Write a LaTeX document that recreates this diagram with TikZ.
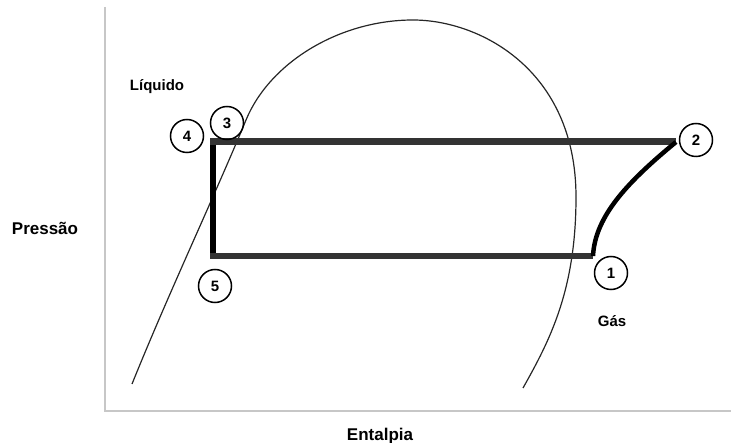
\documentclass[tikz,border=0pt]{standalone}
\usepackage{fontspec}
\setmainfont{Liberation Sans}
\begin{document}
\begin{tikzpicture}[x=1pt,y=-1pt,
  axisline/.style={draw=black!22,line width=2pt},
  domeline/.style={draw=black!85,line width=1.2pt},
  cyclegray/.style={draw=black!80,line width=7pt},
  cycleblack/.style={draw=black,line width=6pt},
  statecirc/.style={circle,draw=black,line width=1.5pt,minimum size=33pt,inner sep=0pt,font=\fontsize{15}{15}\selectfont\bfseries},
  smalllabel/.style={font=\fontsize{15}{15}\selectfont\bfseries},
  axislabel/.style={font=\fontsize{17}{17}\selectfont\bfseries}]
\useasboundingbox (0,0) rectangle (731,443);
% axes
\coordinate (ytop) at (105,7);
\coordinate (orig) at (105,411);
\coordinate (xend) at (731,411);
\draw[axisline] (ytop) -- (orig) -- (xend);
% saturation dome
\coordinate (d0) at (132,384);
\coordinate (d1) at (246,120);
\coordinate (d2) at (413,20);
\coordinate (d3) at (576,197);
\coordinate (d4) at (523,388);
\draw[domeline] (d0) .. controls (170,290) and (215,195) .. (d1)
  .. controls (270,62) and (340,20) .. (d2)
  .. controls (480,20) and (576,70) .. (d3)
  .. controls (576,290) and (550,340) .. (d4);
% cycle
\coordinate (p4) at (213,142);
\coordinate (p2) at (676,142);
\coordinate (p1) at (593,256);
\coordinate (p5) at (213,256);
\draw[cyclegray,line cap=butt] ([xshift=-3pt]p4) -- (p2);
\draw[cyclegray,line width=6pt] ([xshift=-3pt]p5) -- (p1);
\draw[cycleblack] ([yshift=-3.5pt]p4) -- ([yshift=3pt]p5);
\draw[draw=black,line width=4.5pt] (p1) .. controls (595,215) and (630,180) .. (p2);
% state circles
\node[statecirc] (c4) at (187,136) {4};
\node[statecirc] (c3) at (227,123) {3};
\node[statecirc] (c2) at (696,140) {2};
\node[statecirc] (c1) at (611,273) {1};
\node[statecirc] (c5) at (215,286) {5};
% labels
\node[smalllabel] (liq) at (157,87) {Líquido};
\node[smalllabel] (gas) at (612,321) {Gás};
\node[axislabel] (pres) at (45,228) {Pressão};
\node[axislabel] (ent) at (380,436) {Entalpia};
\end{tikzpicture}
\end{document}
